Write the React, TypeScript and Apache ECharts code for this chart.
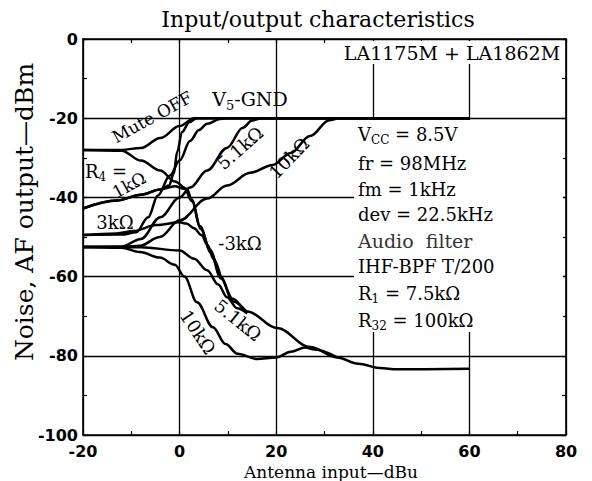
import React, { useEffect, useRef } from "react";
import * as echarts from "echarts";

// ---- data (x: antenna input dBu, y: output dBm) ----
const X_MIN = -20;
const X_MAX = 80;
const X_STEP = 20;
const Y_MIN = -100;
const Y_MAX = 0;
const Y_STEP = 20;

// Signal (AF output) curves
const sigMuteOff = [[-20, -28], [-12, -28], [-8, -27.5], [-4, -25], [0, -22], [3, -20], [60, -20]];
const sig1k = [[-20, -42.8], [-13, -40.8], [-8, -39.3], [-4, -38], [-2.2, -37], [-1.2, -34], [-0.5, -28.5], [0.5, -23.5], [2, -21], [3.5, -20], [60, -20]];
const sig3k = [[-20, -49.5], [-12, -49.4], [-9, -48.8], [-6.5, -45], [-4.5, -39.5], [-2, -34.5], [0, -30.7], [2.2, -25.7], [4, -23], [5.7, -21.4], [8.4, -20.2], [10, -20], [60, -20]];
const sig5k1 = [[-20, -52.5], [-12, -52.4], [-8, -50.5], [-4, -45], [0, -40], [2.2, -37.5], [5.7, -33.2], [9.8, -27.5], [13.1, -22.4], [15, -20.6], [17, -20], [60, -20]];
const sig10k = [[-20, -52.5], [-12, -52.5], [-8.2, -52.2], [-4.1, -50], [0, -45.8], [5.7, -40.3], [9.8, -37], [14.6, -33.8], [19.3, -31.8], [23, -28.8], [27, -24.5], [31, -20.5], [33, -20], [60, -20]];

// Noise curves
const noiseMuteOff = [[-20, -28], [-12, -28.2], [-8, -30.7], [-4, -33.2], [-1, -36], [1.5, -37.8], [2.5, -40.5], [4.2, -47.2], [6.3, -53.2], [8.4, -60], [11, -65.6], [14, -68.8], [20.2, -73], [27, -77.8], [32.6, -80.4], [37, -82], [41.5, -83.1], [45, -83.4], [60, -83.3]];
const noise1k = [[-20, -42.8], [-13, -40.8], [-8, -39.3], [-4, -38], [-1, -37.2], [1, -37.8], [2.6, -41], [4.4, -48], [6.5, -54], [8.6, -60.5], [11, -66.2], [14, -69]];
const noise3k = [[-20, -49.5], [-13, -49.1], [-9.6, -48.5], [-4.8, -47], [0, -46.3], [1.4, -46.6], [3, -47.8], [4.5, -49.5], [5.8, -52], [7, -55.5], [8.5, -60]];
const noise5k1 = [[-20, -52.5], [-8, -52.6], [0, -53.4], [3, -55.5], [5.7, -58.4], [8, -62], [9.8, -65.2], [11.9, -68], [14, -69.3]];
const noise10k = [[-20, -52.5], [-12, -52.7], [-8.2, -53.8], [-4.1, -55.2], [-1, -57], [1, -60], [3.6, -66.5], [6.9, -72.8], [9.5, -77], [12, -79.5], [16, -80.8], [20, -80.4], [23, -79], [26, -77.9], [28, -78.4], [32.6, -80.4]];

const curves = [
  { name: "S Mute OFF", data: sigMuteOff },
  { name: "S 1k", data: sig1k },
  { name: "S 3k", data: sig3k },
  { name: "S 5.1k", data: sig5k1 },
  { name: "S 10k", data: sig10k },
  { name: "N Mute OFF", data: noiseMuteOff },
  { name: "N 1k", data: noise1k },
  { name: "N 3k", data: noise3k },
  { name: "N 5.1k", data: noise5k1 },
  { name: "N 10k", data: noise10k },
];

const TITLE = "Input/output characteristics";
const X_NAME = "Antenna input—dBu";
const Y_NAME = "Noise, AF output—dBm";
const DEVICE = "LA1175M + LA1862M";

const SERIF = "'DejaVu Serif', 'Liberation Serif', serif";
const SANS = "'DejaVu Sans', sans-serif";

function txt(x: number, y: number, text: string, size: number, opts: any = {}) {
  return {
    type: "text",
    x,
    y,
    rotation: opts.rot || 0,
    z: 20,
    style: {
      text,
      fill: opts.fill || "#000",
      fontSize: size,
      fontFamily: opts.family || SERIF,
      fontWeight: opts.weight || "normal",
      align: opts.align || "center",
      verticalAlign: "middle",
      textAlign: opts.align || "center",
      textVerticalAlign: "middle",
      rich: opts.rich,
    },
  };
}

const subRich = (size: number) => ({
  a: { fontSize: size, fontFamily: SERIF, fill: "#000", lineHeight: size + 6 },
  s: { fontSize: Math.round(size * 0.68), fontFamily: SERIF, fill: "#000", verticalAlign: "bottom" },
});

export default function App() {
  const ref = useRef<HTMLDivElement>(null);
  useEffect(() => {
    const chart = echarts.init(ref.current!, null, { renderer: "svg" });
    const axisCommon = {
      type: "value",
      axisLine: { show: true, onZero: false, lineStyle: { color: "#000", width: 1.6 } },
      axisTick: { show: true, inside: true, length: 4, lineStyle: { color: "#000", width: 1.2 } },
      minorTick: { show: true, splitNumber: 2, length: 4, lineStyle: { color: "#000", width: 1.2 } },
    };
    const option: any = {
      animation: false,
      backgroundColor: "#fff",
      grid: { left: 83, right: 26, top: 39, bottom: 46, show: false },
      xAxis: [
        {
          ...axisCommon,
          min: X_MIN,
          max: X_MAX,
          interval: X_STEP,
          position: "bottom",
          axisLabel: { color: "#000", fontSize: 16, fontWeight: "bold", fontFamily: SANS, margin: 8 },
          splitLine: { show: true, lineStyle: { color: "#000", width: 1.3 } },
        },
        {
          ...axisCommon,
          min: X_MIN,
          max: X_MAX,
          interval: X_STEP,
          position: "top",
          axisLabel: { show: false },
          splitLine: { show: false },
        },
      ],
      yAxis: [
        {
          ...axisCommon,
          min: Y_MIN,
          max: Y_MAX,
          interval: Y_STEP,
          position: "left",
          axisLabel: { color: "#000", fontSize: 16, fontWeight: "bold", fontFamily: SANS, margin: 5 },
          splitLine: { show: true, lineStyle: { color: "#000", width: 1.3 } },
        },
        {
          ...axisCommon,
          min: Y_MIN,
          max: Y_MAX,
          interval: Y_STEP,
          position: "right",
          axisLabel: { show: false },
          splitLine: { show: false },
        },
      ],
      series: curves.map((c) => ({
        name: c.name,
        type: "line",
        data: c.data,
        xAxisIndex: 0,
        yAxisIndex: 0,
        showSymbol: false,
        smooth: 0.35,
        smoothMonotone: "x",
        lineStyle: { color: "#000", width: 2.5 },
        z: 3,
      })),
      graphic: [
        // white backgrounds of the text blocks
        { type: "rect", z: 10, shape: { x: 338, y: 41, width: 226, height: 23 }, style: { fill: "#fff" } },
        { type: "rect", z: 10, shape: { x: 354, y: 120, width: 209, height: 212 }, style: { fill: "#fff" } },
        txt(318, 19, TITLE, 22),
        txt(452, 53, DEVICE, 19),
        txt(331, 472, X_NAME, 17),
        txt(24, 212, Y_NAME, 25, { rot: Math.PI / 2 }),
        // condition block
        txt(358, 134, "{a|V}{s|CC}{a| = 8.5V}", 18, { align: "left", rich: subRich(18) }),
        txt(358, 163, "fr = 98MHz", 18, { align: "left" }),
        txt(358, 189, "fm = 1kHz", 18, { align: "left" }),
        txt(358, 214, "dev = 22.5kHz", 18, { align: "left" }),
        txt(358, 241, "Audio  filter", 19, { align: "left", fill: "#333" }),
        txt(358, 266, "IHF-BPF T/200", 18, { align: "left" }),
        txt(358, 293, "{a|R}{s|1}{a| = 7.5kΩ}", 18, { align: "left", rich: subRich(18) }),
        txt(358, 320, "{a|R}{s|32}{a| = 100kΩ}", 18, { align: "left", rich: subRich(18) }),
        // curve labels
        txt(152, 117, "Mute OFF", 17, { rot: 0.5 }),
        txt(250, 99, "{a|V}{s|5}{a|-GND}", 19, { rich: subRich(19) }),
        txt(106, 171, "{a|R}{s|4}{a| =}", 18, { rich: subRich(18) }),
        txt(129, 185, "1kΩ", 17, { rot: 0.5 }),
        txt(115, 222, "3kΩ", 18),
        txt(240, 148, "5.1kΩ", 18, { rot: 0.72 }),
        txt(289, 158, "10kΩ", 18, { rot: 0.8 }),
        txt(240, 243, "-3kΩ", 18),
        txt(238, 320, "5.1kΩ", 18, { rot: -0.68 }),
        txt(198, 332, "10kΩ", 18, { rot: -0.98 }),
      ],
    };
    chart.setOption(option);
    return () => chart.dispose();
  }, []);
  return (
    <div
      ref={ref}
      style={{ position: "fixed", left: 0, top: 0, width: 592, height: 481, background: "#fff" }}
    />
  );
}
